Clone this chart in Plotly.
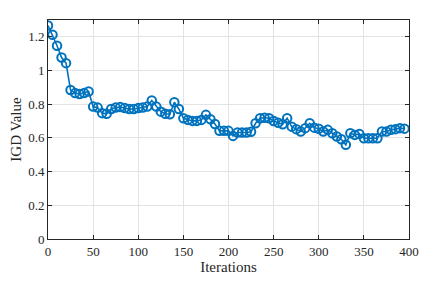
import plotly.graph_objects as go

iterations = list(range(0, 400, 5))
igd_values = [
    1.267, 1.212, 1.147, 1.077, 1.044,
    0.884, 0.866, 0.860, 0.866, 0.876,
    0.786, 0.780, 0.747, 0.743, 0.772,
    0.780, 0.783, 0.777, 0.771, 0.772,
    0.777, 0.780, 0.786, 0.822, 0.786,
    0.756, 0.743, 0.741, 0.812, 0.772,
    0.717, 0.707, 0.701, 0.701, 0.707,
    0.737, 0.711, 0.683, 0.642, 0.642,
    0.642, 0.612, 0.632, 0.632, 0.632,
    0.637, 0.687, 0.717, 0.720, 0.717,
    0.700, 0.690, 0.681, 0.717, 0.667,
    0.652, 0.638, 0.658, 0.687, 0.661,
    0.654, 0.638, 0.648, 0.628, 0.608,
    0.592, 0.559, 0.628, 0.618, 0.624,
    0.598, 0.598, 0.598, 0.598, 0.638,
    0.638, 0.648, 0.652, 0.658, 0.655,
]
x_ticks = [0, 50, 100, 150, 200, 250, 300, 350, 400]
y_ticks = [0, 0.2, 0.4, 0.6, 0.8, 1.0, 1.2]
y_tick_labels = ["0", "0.2", "0.4", "0.6", "0.8", "1", "1.2"]

blue = "#0072BD"
fig = go.Figure(go.Scatter(
    x=iterations, y=igd_values, mode="lines+markers",
    line=dict(color=blue, width=1.6),
    marker=dict(symbol="circle-open", size=8.5, color=blue, line=dict(width=2)),
))

axis_common = dict(
    showline=True, linecolor="#262626", linewidth=1, mirror="allticks",
    ticks="inside", ticklen=4, tickcolor="#262626", tickwidth=1,
    showgrid=True, gridcolor="#e3e3e3", gridwidth=1, zeroline=False,
    automargin=False,
    tickfont=dict(family="Liberation Serif", size=13, color="#262626"),
)

fig.update_layout(
    width=427, height=276,
    margin=dict(l=39.5, r=25.7, t=12, b=45),
    paper_bgcolor="white", plot_bgcolor="white",
    showlegend=False,
    font=dict(family="Liberation Serif", size=13, color="#262626"),
    xaxis=dict(range=[0, 400], tickvals=x_ticks,
               title=dict(text="Iterations", font=dict(size=15), standoff=2),
               **axis_common),
    yaxis=dict(range=[0, 1.3], tickvals=y_ticks, ticktext=y_tick_labels,
               title=dict(text="IGD Value", font=dict(size=15), standoff=6),
               **axis_common),
)

fig.write_html("out.html")
